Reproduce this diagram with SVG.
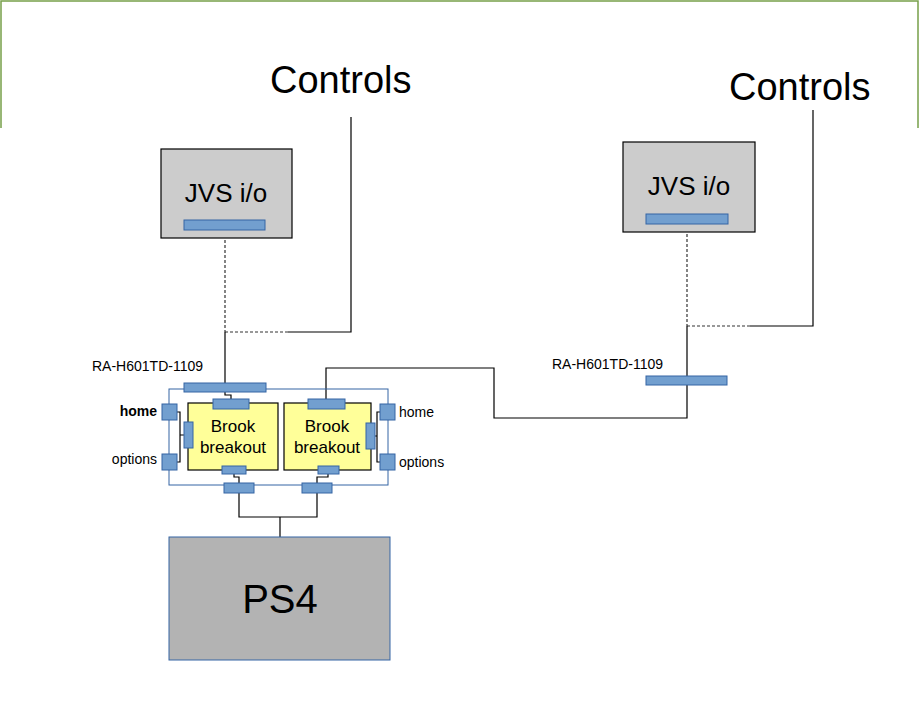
<svg xmlns="http://www.w3.org/2000/svg" width="920" height="709" viewBox="0 0 920 709">
<style>
text{font-family:"Liberation Sans",Arial,sans-serif;fill:#000}
.c{fill:#729fcf;stroke:#3465a4;stroke-width:1}
.w{fill:none;stroke:#000;stroke-width:1.2}
.d{fill:none;stroke:#333;stroke-width:1.2;stroke-dasharray:3,2}
.jvs{fill:#cccccc;stroke:#000;stroke-width:1.2}
.bb{fill:#ffff99;stroke:#000;stroke-width:1.2}
</style>
<rect width="920" height="709" fill="#fff"/>
<path d="M1,128 V1 H918 V128" fill="none" stroke="#77a04a" stroke-width="1.5"/>
<g id="connectors">
<path class="w" d="M351,117 V332 H288"/>
<path class="d" d="M288,332 H225 M225,230 V332"/>
<path class="w" d="M225,332 V383"/>
<path class="w" d="M813,110 V326 H750"/>
<path class="d" d="M750,326 H687 M687,224 V326"/>
<path class="w" d="M687,326 V418 H494 V368 H326 V401"/>
<path class="w" d="M225,392 V395 H231 V399"/>
<path class="w" d="M177,412 H180 V462 H177 M180,435 H184"/>
<path class="w" d="M395,412 H377 V462 H380 M377,436 H375"/>
<path class="w" d="M234,474 V477 H239 V483 M328,474 V477 H317 V483"/>
<path class="w" d="M239,493 V517 H317 V493 M280,517 V537"/>
</g>
<g id="controls-left"><text x="270" y="93" font-size="38">Controls</text></g>
<g id="controls-right"><text x="729" y="100" font-size="38">Controls</text></g>
<g id="jvs-left">
<rect class="jvs" x="161" y="149" width="131" height="89"/>
<text x="226" y="202" font-size="26" text-anchor="middle">JVS i/o</text>
<rect class="c" x="184" y="220" width="81" height="10"/>
</g>
<g id="jvs-right">
<rect class="jvs" x="623" y="142" width="132" height="90"/>
<text x="689" y="195" font-size="26" text-anchor="middle">JVS i/o</text>
<rect class="c" x="646" y="214" width="82" height="10"/>
</g>
<g id="ra-right">
<text x="552" y="369" font-size="14">RA-H601TD-1109</text>
<rect class="c" x="646" y="376" width="81" height="9"/>
</g>
<g id="breakout-assembly">
<rect x="169" y="389" width="219" height="96" fill="none" stroke="#3465a4" stroke-width="1"/>
<text x="92" y="371" font-size="14">RA-H601TD-1109</text>
<rect class="c" x="184" y="383" width="82" height="9"/>
</g>
<g id="brook1">
<rect class="bb" x="188" y="403" width="90" height="67"/>
<text x="233" y="432" font-size="17" text-anchor="middle">Brook</text>
<text x="233" y="453" font-size="17" text-anchor="middle">breakout</text>
<rect class="c" x="213" y="399" width="36" height="10"/>
<rect class="c" x="222" y="466" width="24" height="8"/>
<rect class="c" x="184" y="422" width="9" height="26"/>
<rect class="c" x="224" y="483" width="30" height="10"/>
</g>
<g id="brook2">
<rect class="bb" x="284" y="403" width="87" height="67"/>
<text x="327" y="432" font-size="17" text-anchor="middle">Brook</text>
<text x="327" y="453" font-size="17" text-anchor="middle">breakout</text>
<rect class="c" x="308" y="399" width="37" height="10"/>
<rect class="c" x="318" y="466" width="21" height="8"/>
<rect class="c" x="366" y="423" width="9" height="26"/>
<rect class="c" x="302" y="483" width="30" height="10"/>
</g>
<g id="buttons-left">
<rect class="c" x="162" y="404" width="15" height="16"/>
<rect class="c" x="162" y="454" width="15" height="16"/>
<text x="157" y="416" font-size="14" text-anchor="end" font-weight="bold">home</text>
<text x="157" y="464" font-size="14" text-anchor="end">options</text>
</g>
<g id="buttons-right">
<rect class="c" x="380" y="404" width="15" height="16"/>
<rect class="c" x="380" y="454" width="15" height="16"/>
<text x="399" y="417" font-size="14">home</text>
<text x="399" y="467" font-size="14">options</text>
</g>
<g id="ps4">
<rect x="169" y="537" width="221" height="123" fill="#b3b3b3" stroke="#3465a4" stroke-width="1"/>
<text x="280" y="613" font-size="40" text-anchor="middle">PS4</text>
</g>
</svg>
